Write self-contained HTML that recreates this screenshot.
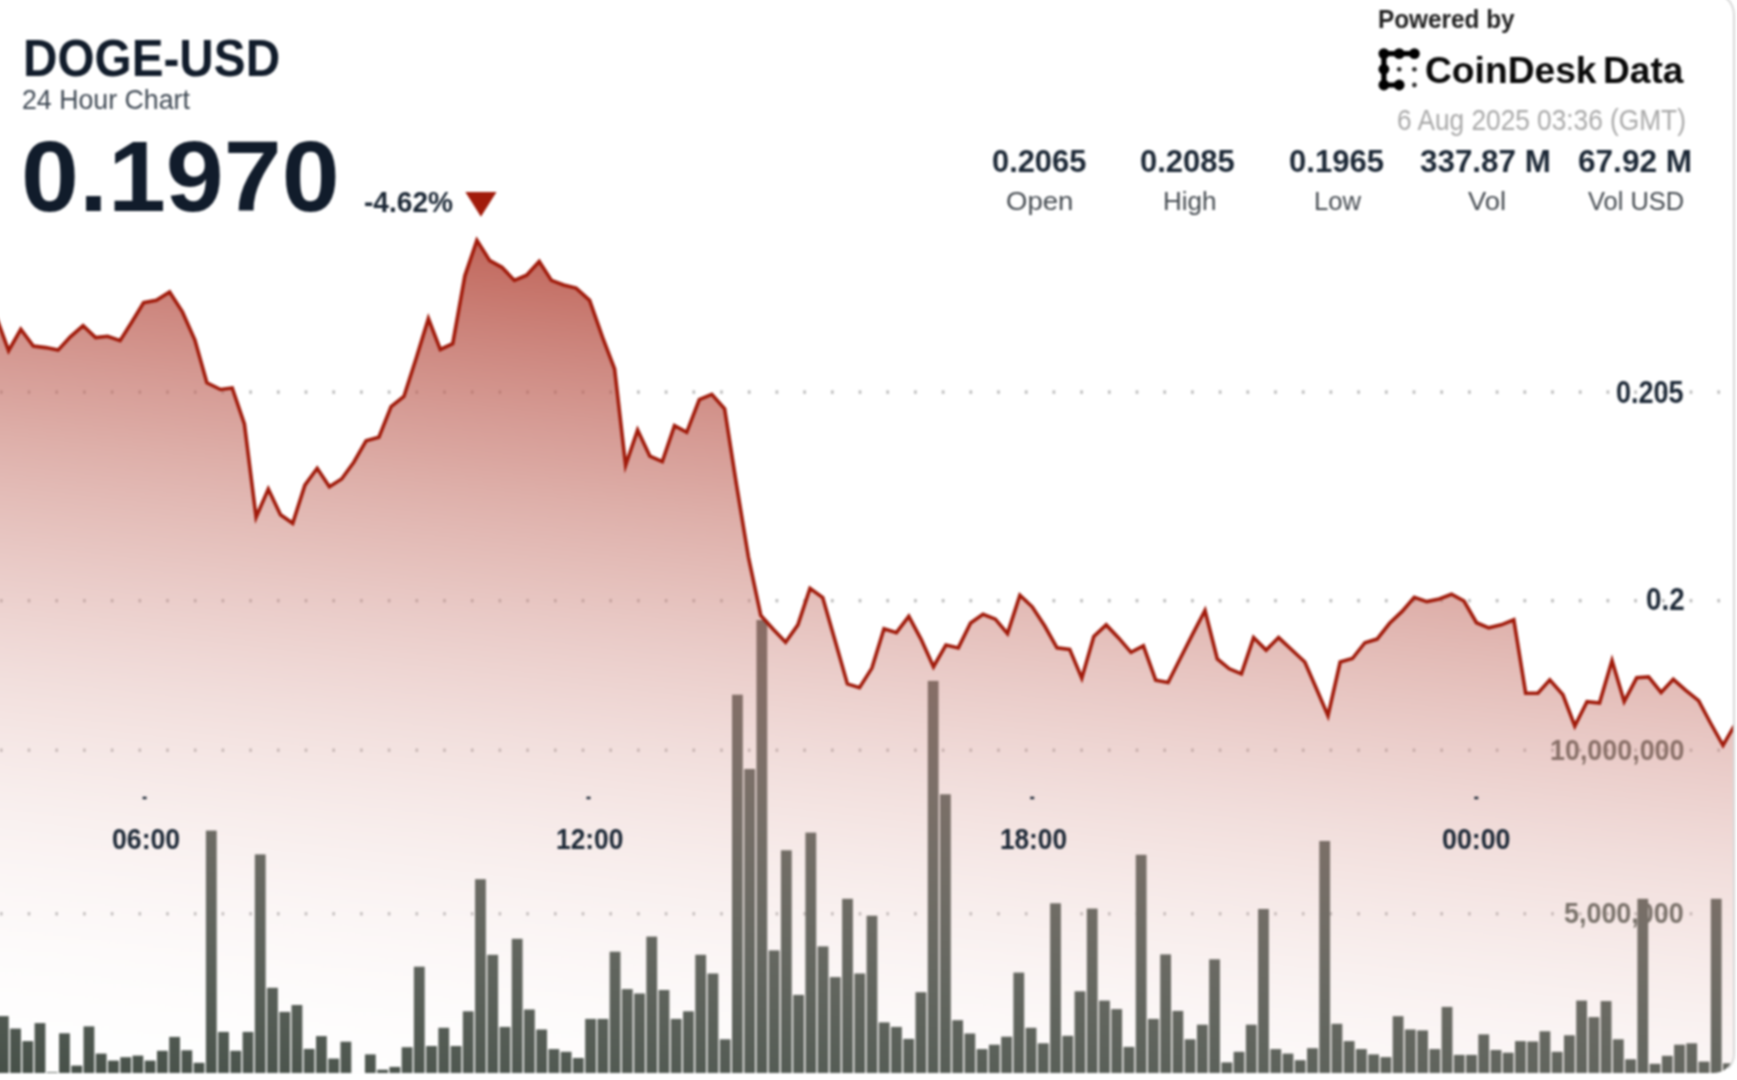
<!DOCTYPE html>
<html><head><meta charset="utf-8"><title>DOGE-USD 24 Hour Chart</title>
<style>
html,body{margin:0;padding:0;background:#fff;}
body{width:1737px;height:1080px;overflow:hidden;position:relative;font-family:"Liberation Sans",sans-serif;}
#card{position:absolute;left:-40px;top:-9px;width:1770.8px;height:1080.2px;border:2px solid #d8d8d8;border-right-width:2.6px;border-bottom-color:#fff;border-radius:21px;border-top-right-radius:24px;overflow:hidden;background:#fff;box-sizing:content-box;}
#inner{position:absolute;left:38px;top:7px;width:1737px;height:1080px;}
#inner svg{position:absolute;left:0;top:0;overflow:visible;}
.t{position:absolute;white-space:nowrap;line-height:1;transform-origin:0 0;}
#wrap{position:absolute;left:0;top:0;width:1737px;height:1080px;filter:blur(1.0px);}
</style></head><body>
<div id="wrap">
<div id="card"><div id="inner">
<svg width="1737" height="1080" viewBox="0 0 1737 1080">
<g fill="#8f8f8f" opacity="0.62"><rect x="0.0" y="390.4" width="2.6" height="3.4"/><rect x="27.7" y="390.4" width="2.6" height="3.4"/><rect x="55.4" y="390.4" width="2.6" height="3.4"/><rect x="83.1" y="390.4" width="2.6" height="3.4"/><rect x="110.8" y="390.4" width="2.6" height="3.4"/><rect x="138.5" y="390.4" width="2.6" height="3.4"/><rect x="166.2" y="390.4" width="2.6" height="3.4"/><rect x="193.9" y="390.4" width="2.6" height="3.4"/><rect x="221.6" y="390.4" width="2.6" height="3.4"/><rect x="249.3" y="390.4" width="2.6" height="3.4"/><rect x="277.0" y="390.4" width="2.6" height="3.4"/><rect x="304.7" y="390.4" width="2.6" height="3.4"/><rect x="332.4" y="390.4" width="2.6" height="3.4"/><rect x="360.1" y="390.4" width="2.6" height="3.4"/><rect x="387.8" y="390.4" width="2.6" height="3.4"/><rect x="415.5" y="390.4" width="2.6" height="3.4"/><rect x="443.2" y="390.4" width="2.6" height="3.4"/><rect x="470.9" y="390.4" width="2.6" height="3.4"/><rect x="498.6" y="390.4" width="2.6" height="3.4"/><rect x="526.3" y="390.4" width="2.6" height="3.4"/><rect x="554.0" y="390.4" width="2.6" height="3.4"/><rect x="581.7" y="390.4" width="2.6" height="3.4"/><rect x="609.4" y="390.4" width="2.6" height="3.4"/><rect x="637.1" y="390.4" width="2.6" height="3.4"/><rect x="664.8" y="390.4" width="2.6" height="3.4"/><rect x="692.5" y="390.4" width="2.6" height="3.4"/><rect x="720.2" y="390.4" width="2.6" height="3.4"/><rect x="747.9" y="390.4" width="2.6" height="3.4"/><rect x="775.6" y="390.4" width="2.6" height="3.4"/><rect x="803.3" y="390.4" width="2.6" height="3.4"/><rect x="831.0" y="390.4" width="2.6" height="3.4"/><rect x="858.7" y="390.4" width="2.6" height="3.4"/><rect x="886.4" y="390.4" width="2.6" height="3.4"/><rect x="914.1" y="390.4" width="2.6" height="3.4"/><rect x="941.8" y="390.4" width="2.6" height="3.4"/><rect x="969.5" y="390.4" width="2.6" height="3.4"/><rect x="997.2" y="390.4" width="2.6" height="3.4"/><rect x="1024.9" y="390.4" width="2.6" height="3.4"/><rect x="1052.6" y="390.4" width="2.6" height="3.4"/><rect x="1080.3" y="390.4" width="2.6" height="3.4"/><rect x="1108.0" y="390.4" width="2.6" height="3.4"/><rect x="1135.7" y="390.4" width="2.6" height="3.4"/><rect x="1163.4" y="390.4" width="2.6" height="3.4"/><rect x="1191.1" y="390.4" width="2.6" height="3.4"/><rect x="1218.8" y="390.4" width="2.6" height="3.4"/><rect x="1246.5" y="390.4" width="2.6" height="3.4"/><rect x="1274.2" y="390.4" width="2.6" height="3.4"/><rect x="1301.9" y="390.4" width="2.6" height="3.4"/><rect x="1329.6" y="390.4" width="2.6" height="3.4"/><rect x="1357.3" y="390.4" width="2.6" height="3.4"/><rect x="1385.0" y="390.4" width="2.6" height="3.4"/><rect x="1412.7" y="390.4" width="2.6" height="3.4"/><rect x="1440.4" y="390.4" width="2.6" height="3.4"/><rect x="1468.1" y="390.4" width="2.6" height="3.4"/><rect x="1495.8" y="390.4" width="2.6" height="3.4"/><rect x="1523.5" y="390.4" width="2.6" height="3.4"/><rect x="1551.2" y="390.4" width="2.6" height="3.4"/><rect x="1578.9" y="390.4" width="2.6" height="3.4"/><rect x="1606.6" y="390.4" width="2.6" height="3.4"/><rect x="1634.3" y="390.4" width="2.6" height="3.4"/><rect x="1662.0" y="390.4" width="2.6" height="3.4"/><rect x="1689.7" y="390.4" width="2.6" height="3.4"/><rect x="1717.4" y="390.4" width="2.6" height="3.4"/><rect x="0.0" y="599.0" width="2.6" height="3.4"/><rect x="27.7" y="599.0" width="2.6" height="3.4"/><rect x="55.4" y="599.0" width="2.6" height="3.4"/><rect x="83.1" y="599.0" width="2.6" height="3.4"/><rect x="110.8" y="599.0" width="2.6" height="3.4"/><rect x="138.5" y="599.0" width="2.6" height="3.4"/><rect x="166.2" y="599.0" width="2.6" height="3.4"/><rect x="193.9" y="599.0" width="2.6" height="3.4"/><rect x="221.6" y="599.0" width="2.6" height="3.4"/><rect x="249.3" y="599.0" width="2.6" height="3.4"/><rect x="277.0" y="599.0" width="2.6" height="3.4"/><rect x="304.7" y="599.0" width="2.6" height="3.4"/><rect x="332.4" y="599.0" width="2.6" height="3.4"/><rect x="360.1" y="599.0" width="2.6" height="3.4"/><rect x="387.8" y="599.0" width="2.6" height="3.4"/><rect x="415.5" y="599.0" width="2.6" height="3.4"/><rect x="443.2" y="599.0" width="2.6" height="3.4"/><rect x="470.9" y="599.0" width="2.6" height="3.4"/><rect x="498.6" y="599.0" width="2.6" height="3.4"/><rect x="526.3" y="599.0" width="2.6" height="3.4"/><rect x="554.0" y="599.0" width="2.6" height="3.4"/><rect x="581.7" y="599.0" width="2.6" height="3.4"/><rect x="609.4" y="599.0" width="2.6" height="3.4"/><rect x="637.1" y="599.0" width="2.6" height="3.4"/><rect x="664.8" y="599.0" width="2.6" height="3.4"/><rect x="692.5" y="599.0" width="2.6" height="3.4"/><rect x="720.2" y="599.0" width="2.6" height="3.4"/><rect x="747.9" y="599.0" width="2.6" height="3.4"/><rect x="775.6" y="599.0" width="2.6" height="3.4"/><rect x="803.3" y="599.0" width="2.6" height="3.4"/><rect x="831.0" y="599.0" width="2.6" height="3.4"/><rect x="858.7" y="599.0" width="2.6" height="3.4"/><rect x="886.4" y="599.0" width="2.6" height="3.4"/><rect x="914.1" y="599.0" width="2.6" height="3.4"/><rect x="941.8" y="599.0" width="2.6" height="3.4"/><rect x="969.5" y="599.0" width="2.6" height="3.4"/><rect x="997.2" y="599.0" width="2.6" height="3.4"/><rect x="1024.9" y="599.0" width="2.6" height="3.4"/><rect x="1052.6" y="599.0" width="2.6" height="3.4"/><rect x="1080.3" y="599.0" width="2.6" height="3.4"/><rect x="1108.0" y="599.0" width="2.6" height="3.4"/><rect x="1135.7" y="599.0" width="2.6" height="3.4"/><rect x="1163.4" y="599.0" width="2.6" height="3.4"/><rect x="1191.1" y="599.0" width="2.6" height="3.4"/><rect x="1218.8" y="599.0" width="2.6" height="3.4"/><rect x="1246.5" y="599.0" width="2.6" height="3.4"/><rect x="1274.2" y="599.0" width="2.6" height="3.4"/><rect x="1301.9" y="599.0" width="2.6" height="3.4"/><rect x="1329.6" y="599.0" width="2.6" height="3.4"/><rect x="1357.3" y="599.0" width="2.6" height="3.4"/><rect x="1385.0" y="599.0" width="2.6" height="3.4"/><rect x="1412.7" y="599.0" width="2.6" height="3.4"/><rect x="1440.4" y="599.0" width="2.6" height="3.4"/><rect x="1468.1" y="599.0" width="2.6" height="3.4"/><rect x="1495.8" y="599.0" width="2.6" height="3.4"/><rect x="1523.5" y="599.0" width="2.6" height="3.4"/><rect x="1551.2" y="599.0" width="2.6" height="3.4"/><rect x="1578.9" y="599.0" width="2.6" height="3.4"/><rect x="1606.6" y="599.0" width="2.6" height="3.4"/><rect x="1634.3" y="599.0" width="2.6" height="3.4"/><rect x="1662.0" y="599.0" width="2.6" height="3.4"/><rect x="1689.7" y="599.0" width="2.6" height="3.4"/><rect x="1717.4" y="599.0" width="2.6" height="3.4"/><rect x="0.0" y="748.5" width="2.6" height="3.4"/><rect x="27.7" y="748.5" width="2.6" height="3.4"/><rect x="55.4" y="748.5" width="2.6" height="3.4"/><rect x="83.1" y="748.5" width="2.6" height="3.4"/><rect x="110.8" y="748.5" width="2.6" height="3.4"/><rect x="138.5" y="748.5" width="2.6" height="3.4"/><rect x="166.2" y="748.5" width="2.6" height="3.4"/><rect x="193.9" y="748.5" width="2.6" height="3.4"/><rect x="221.6" y="748.5" width="2.6" height="3.4"/><rect x="249.3" y="748.5" width="2.6" height="3.4"/><rect x="277.0" y="748.5" width="2.6" height="3.4"/><rect x="304.7" y="748.5" width="2.6" height="3.4"/><rect x="332.4" y="748.5" width="2.6" height="3.4"/><rect x="360.1" y="748.5" width="2.6" height="3.4"/><rect x="387.8" y="748.5" width="2.6" height="3.4"/><rect x="415.5" y="748.5" width="2.6" height="3.4"/><rect x="443.2" y="748.5" width="2.6" height="3.4"/><rect x="470.9" y="748.5" width="2.6" height="3.4"/><rect x="498.6" y="748.5" width="2.6" height="3.4"/><rect x="526.3" y="748.5" width="2.6" height="3.4"/><rect x="554.0" y="748.5" width="2.6" height="3.4"/><rect x="581.7" y="748.5" width="2.6" height="3.4"/><rect x="609.4" y="748.5" width="2.6" height="3.4"/><rect x="637.1" y="748.5" width="2.6" height="3.4"/><rect x="664.8" y="748.5" width="2.6" height="3.4"/><rect x="692.5" y="748.5" width="2.6" height="3.4"/><rect x="720.2" y="748.5" width="2.6" height="3.4"/><rect x="747.9" y="748.5" width="2.6" height="3.4"/><rect x="775.6" y="748.5" width="2.6" height="3.4"/><rect x="803.3" y="748.5" width="2.6" height="3.4"/><rect x="831.0" y="748.5" width="2.6" height="3.4"/><rect x="858.7" y="748.5" width="2.6" height="3.4"/><rect x="886.4" y="748.5" width="2.6" height="3.4"/><rect x="914.1" y="748.5" width="2.6" height="3.4"/><rect x="941.8" y="748.5" width="2.6" height="3.4"/><rect x="969.5" y="748.5" width="2.6" height="3.4"/><rect x="997.2" y="748.5" width="2.6" height="3.4"/><rect x="1024.9" y="748.5" width="2.6" height="3.4"/><rect x="1052.6" y="748.5" width="2.6" height="3.4"/><rect x="1080.3" y="748.5" width="2.6" height="3.4"/><rect x="1108.0" y="748.5" width="2.6" height="3.4"/><rect x="1135.7" y="748.5" width="2.6" height="3.4"/><rect x="1163.4" y="748.5" width="2.6" height="3.4"/><rect x="1191.1" y="748.5" width="2.6" height="3.4"/><rect x="1218.8" y="748.5" width="2.6" height="3.4"/><rect x="1246.5" y="748.5" width="2.6" height="3.4"/><rect x="1274.2" y="748.5" width="2.6" height="3.4"/><rect x="1301.9" y="748.5" width="2.6" height="3.4"/><rect x="1329.6" y="748.5" width="2.6" height="3.4"/><rect x="1357.3" y="748.5" width="2.6" height="3.4"/><rect x="1385.0" y="748.5" width="2.6" height="3.4"/><rect x="1412.7" y="748.5" width="2.6" height="3.4"/><rect x="1440.4" y="748.5" width="2.6" height="3.4"/><rect x="1468.1" y="748.5" width="2.6" height="3.4"/><rect x="1495.8" y="748.5" width="2.6" height="3.4"/><rect x="1523.5" y="748.5" width="2.6" height="3.4"/><rect x="1551.2" y="748.5" width="2.6" height="3.4"/><rect x="1578.9" y="748.5" width="2.6" height="3.4"/><rect x="1606.6" y="748.5" width="2.6" height="3.4"/><rect x="1634.3" y="748.5" width="2.6" height="3.4"/><rect x="1662.0" y="748.5" width="2.6" height="3.4"/><rect x="1689.7" y="748.5" width="2.6" height="3.4"/><rect x="1717.4" y="748.5" width="2.6" height="3.4"/><rect x="0.0" y="912.1" width="2.6" height="3.4"/><rect x="27.7" y="912.1" width="2.6" height="3.4"/><rect x="55.4" y="912.1" width="2.6" height="3.4"/><rect x="83.1" y="912.1" width="2.6" height="3.4"/><rect x="110.8" y="912.1" width="2.6" height="3.4"/><rect x="138.5" y="912.1" width="2.6" height="3.4"/><rect x="166.2" y="912.1" width="2.6" height="3.4"/><rect x="193.9" y="912.1" width="2.6" height="3.4"/><rect x="221.6" y="912.1" width="2.6" height="3.4"/><rect x="249.3" y="912.1" width="2.6" height="3.4"/><rect x="277.0" y="912.1" width="2.6" height="3.4"/><rect x="304.7" y="912.1" width="2.6" height="3.4"/><rect x="332.4" y="912.1" width="2.6" height="3.4"/><rect x="360.1" y="912.1" width="2.6" height="3.4"/><rect x="387.8" y="912.1" width="2.6" height="3.4"/><rect x="415.5" y="912.1" width="2.6" height="3.4"/><rect x="443.2" y="912.1" width="2.6" height="3.4"/><rect x="470.9" y="912.1" width="2.6" height="3.4"/><rect x="498.6" y="912.1" width="2.6" height="3.4"/><rect x="526.3" y="912.1" width="2.6" height="3.4"/><rect x="554.0" y="912.1" width="2.6" height="3.4"/><rect x="581.7" y="912.1" width="2.6" height="3.4"/><rect x="609.4" y="912.1" width="2.6" height="3.4"/><rect x="637.1" y="912.1" width="2.6" height="3.4"/><rect x="664.8" y="912.1" width="2.6" height="3.4"/><rect x="692.5" y="912.1" width="2.6" height="3.4"/><rect x="720.2" y="912.1" width="2.6" height="3.4"/><rect x="747.9" y="912.1" width="2.6" height="3.4"/><rect x="775.6" y="912.1" width="2.6" height="3.4"/><rect x="803.3" y="912.1" width="2.6" height="3.4"/><rect x="831.0" y="912.1" width="2.6" height="3.4"/><rect x="858.7" y="912.1" width="2.6" height="3.4"/><rect x="886.4" y="912.1" width="2.6" height="3.4"/><rect x="914.1" y="912.1" width="2.6" height="3.4"/><rect x="941.8" y="912.1" width="2.6" height="3.4"/><rect x="969.5" y="912.1" width="2.6" height="3.4"/><rect x="997.2" y="912.1" width="2.6" height="3.4"/><rect x="1024.9" y="912.1" width="2.6" height="3.4"/><rect x="1052.6" y="912.1" width="2.6" height="3.4"/><rect x="1080.3" y="912.1" width="2.6" height="3.4"/><rect x="1108.0" y="912.1" width="2.6" height="3.4"/><rect x="1135.7" y="912.1" width="2.6" height="3.4"/><rect x="1163.4" y="912.1" width="2.6" height="3.4"/><rect x="1191.1" y="912.1" width="2.6" height="3.4"/><rect x="1218.8" y="912.1" width="2.6" height="3.4"/><rect x="1246.5" y="912.1" width="2.6" height="3.4"/><rect x="1274.2" y="912.1" width="2.6" height="3.4"/><rect x="1301.9" y="912.1" width="2.6" height="3.4"/><rect x="1329.6" y="912.1" width="2.6" height="3.4"/><rect x="1357.3" y="912.1" width="2.6" height="3.4"/><rect x="1385.0" y="912.1" width="2.6" height="3.4"/><rect x="1412.7" y="912.1" width="2.6" height="3.4"/><rect x="1440.4" y="912.1" width="2.6" height="3.4"/><rect x="1468.1" y="912.1" width="2.6" height="3.4"/><rect x="1495.8" y="912.1" width="2.6" height="3.4"/><rect x="1523.5" y="912.1" width="2.6" height="3.4"/><rect x="1551.2" y="912.1" width="2.6" height="3.4"/><rect x="1578.9" y="912.1" width="2.6" height="3.4"/><rect x="1606.6" y="912.1" width="2.6" height="3.4"/><rect x="1634.3" y="912.1" width="2.6" height="3.4"/><rect x="1662.0" y="912.1" width="2.6" height="3.4"/><rect x="1689.7" y="912.1" width="2.6" height="3.4"/><rect x="1717.4" y="912.1" width="2.6" height="3.4"/></g>
</svg>
<div class="t" style="left:1549.70px;top:734.61px;font-size:30px;font-weight:700;color:#48524a;transform:scaleX(0.8959)">10,000,000</div>
<div class="t" style="left:1563.60px;top:898.31px;font-size:30px;font-weight:700;color:#48524a;transform:scaleX(0.8970)">5,000,000</div>
<svg width="1737" height="1080" viewBox="0 0 1737 1080">
<defs><linearGradient id="g" gradientUnits="userSpaceOnUse" x1="0" y1="-19" x2="-125.9" y2="1084.7"><stop offset="0.0000" stop-color="rgb(161,27,11)" stop-opacity="1.0000"/><stop offset="0.0312" stop-color="rgb(164,34,19)" stop-opacity="0.9688"/><stop offset="0.0625" stop-color="rgb(167,41,26)" stop-opacity="0.9375"/><stop offset="0.0938" stop-color="rgb(170,48,34)" stop-opacity="0.9062"/><stop offset="0.1250" stop-color="rgb(173,56,42)" stop-opacity="0.8750"/><stop offset="0.1562" stop-color="rgb(176,63,49)" stop-opacity="0.8438"/><stop offset="0.1875" stop-color="rgb(179,70,57)" stop-opacity="0.8125"/><stop offset="0.2188" stop-color="rgb(182,77,64)" stop-opacity="0.7812"/><stop offset="0.2500" stop-color="rgb(184,84,72)" stop-opacity="0.7500"/><stop offset="0.2812" stop-color="rgb(187,91,80)" stop-opacity="0.7188"/><stop offset="0.3125" stop-color="rgb(190,98,87)" stop-opacity="0.6875"/><stop offset="0.3438" stop-color="rgb(193,105,95)" stop-opacity="0.6562"/><stop offset="0.3750" stop-color="rgb(196,112,102)" stop-opacity="0.6250"/><stop offset="0.4062" stop-color="rgb(199,120,110)" stop-opacity="0.5938"/><stop offset="0.4375" stop-color="rgb(202,127,118)" stop-opacity="0.5625"/><stop offset="0.4688" stop-color="rgb(205,134,125)" stop-opacity="0.5312"/><stop offset="0.5000" stop-color="rgb(208,141,133)" stop-opacity="0.5000"/><stop offset="0.5312" stop-color="rgb(211,148,141)" stop-opacity="0.4688"/><stop offset="0.5625" stop-color="rgb(214,155,148)" stop-opacity="0.4375"/><stop offset="0.5938" stop-color="rgb(217,162,156)" stop-opacity="0.4062"/><stop offset="0.6250" stop-color="rgb(220,170,164)" stop-opacity="0.3750"/><stop offset="0.6562" stop-color="rgb(223,177,171)" stop-opacity="0.3438"/><stop offset="0.6875" stop-color="rgb(226,184,179)" stop-opacity="0.3125"/><stop offset="0.7188" stop-color="rgb(229,191,186)" stop-opacity="0.2812"/><stop offset="0.7500" stop-color="rgb(232,198,194)" stop-opacity="0.2500"/><stop offset="0.7812" stop-color="rgb(234,205,202)" stop-opacity="0.2188"/><stop offset="0.8125" stop-color="rgb(237,212,209)" stop-opacity="0.1875"/><stop offset="0.8438" stop-color="rgb(240,219,217)" stop-opacity="0.1562"/><stop offset="0.8750" stop-color="rgb(243,226,224)" stop-opacity="0.1250"/><stop offset="0.9062" stop-color="rgb(246,234,232)" stop-opacity="0.0938"/><stop offset="0.9375" stop-color="rgb(249,241,240)" stop-opacity="0.0625"/><stop offset="0.9688" stop-color="rgb(252,248,247)" stop-opacity="0.0312"/><stop offset="1.0000" stop-color="rgb(255,255,255)" stop-opacity="0.0000"/></linearGradient></defs>
<g fill="#424c44"><rect x="-2.10" y="1016.1" width="10.8" height="63.9"/><rect x="10.13" y="1028.6" width="10.8" height="51.4"/><rect x="22.37" y="1041.1" width="10.8" height="38.9"/><rect x="34.60" y="1023.1" width="10.8" height="56.9"/><rect x="46.84" y="1072.2" width="10.8" height="7.8"/><rect x="59.07" y="1033.3" width="10.8" height="46.7"/><rect x="71.31" y="1065.6" width="10.8" height="14.4"/><rect x="83.54" y="1026.4" width="10.8" height="53.6"/><rect x="95.78" y="1053.6" width="10.8" height="26.4"/><rect x="108.01" y="1060.6" width="10.8" height="19.4"/><rect x="120.25" y="1057.2" width="10.8" height="22.8"/><rect x="132.48" y="1055.6" width="10.8" height="24.4"/><rect x="144.72" y="1060.6" width="10.8" height="19.4"/><rect x="156.96" y="1050.8" width="10.8" height="29.2"/><rect x="169.19" y="1036.9" width="10.8" height="43.1"/><rect x="181.42" y="1050.3" width="10.8" height="29.7"/><rect x="193.66" y="1062.8" width="10.8" height="17.2"/><rect x="205.90" y="830.6" width="10.8" height="249.4"/><rect x="218.13" y="1031.9" width="10.8" height="48.1"/><rect x="230.36" y="1050.8" width="10.8" height="29.2"/><rect x="242.60" y="1031.9" width="10.8" height="48.1"/><rect x="254.84" y="854.4" width="10.8" height="225.6"/><rect x="267.07" y="987.8" width="10.8" height="92.2"/><rect x="279.31" y="1011.9" width="10.8" height="68.1"/><rect x="291.54" y="1005.0" width="10.8" height="75.0"/><rect x="303.78" y="1048.9" width="10.8" height="31.1"/><rect x="316.01" y="1036.1" width="10.8" height="43.9"/><rect x="328.25" y="1058.6" width="10.8" height="21.4"/><rect x="340.48" y="1041.7" width="10.8" height="38.3"/><rect x="352.72" y="1073.1" width="10.8" height="6.9"/><rect x="364.95" y="1054.4" width="10.8" height="25.6"/><rect x="377.19" y="1069.7" width="10.8" height="10.3"/><rect x="389.42" y="1066.9" width="10.8" height="13.1"/><rect x="401.66" y="1047.2" width="10.8" height="32.8"/><rect x="413.89" y="966.7" width="10.8" height="113.3"/><rect x="426.12" y="1046.0" width="10.8" height="34.0"/><rect x="438.36" y="1027.8" width="10.8" height="52.2"/><rect x="450.60" y="1046.0" width="10.8" height="34.0"/><rect x="462.83" y="1011.3" width="10.8" height="68.7"/><rect x="475.06" y="879.2" width="10.8" height="200.8"/><rect x="487.30" y="954.8" width="10.8" height="125.2"/><rect x="499.54" y="1026.9" width="10.8" height="53.1"/><rect x="511.77" y="938.8" width="10.8" height="141.2"/><rect x="524.00" y="1009.5" width="10.8" height="70.5"/><rect x="536.24" y="1029.5" width="10.8" height="50.5"/><rect x="548.47" y="1049.1" width="10.8" height="30.9"/><rect x="560.71" y="1051.8" width="10.8" height="28.2"/><rect x="572.94" y="1058.0" width="10.8" height="22.0"/><rect x="585.18" y="1018.9" width="10.8" height="61.1"/><rect x="597.41" y="1018.9" width="10.8" height="61.1"/><rect x="609.65" y="951.7" width="10.8" height="128.3"/><rect x="621.88" y="989.1" width="10.8" height="90.9"/><rect x="634.12" y="993.5" width="10.8" height="86.5"/><rect x="646.35" y="936.6" width="10.8" height="143.4"/><rect x="658.59" y="990.0" width="10.8" height="90.0"/><rect x="670.82" y="1018.9" width="10.8" height="61.1"/><rect x="683.06" y="1011.3" width="10.8" height="68.7"/><rect x="695.29" y="954.8" width="10.8" height="125.2"/><rect x="707.53" y="973.5" width="10.8" height="106.5"/><rect x="719.76" y="1039.3" width="10.8" height="40.7"/><rect x="732.00" y="694.7" width="10.8" height="385.3"/><rect x="744.23" y="769.0" width="10.8" height="311.0"/><rect x="756.47" y="620.0" width="10.8" height="460.0"/><rect x="768.70" y="950.4" width="10.8" height="129.6"/><rect x="780.94" y="850.3" width="10.8" height="229.7"/><rect x="793.17" y="994.9" width="10.8" height="85.1"/><rect x="805.41" y="832.6" width="10.8" height="247.4"/><rect x="817.64" y="946.4" width="10.8" height="133.6"/><rect x="829.88" y="977.1" width="10.8" height="102.9"/><rect x="842.11" y="898.8" width="10.8" height="181.2"/><rect x="854.35" y="973.5" width="10.8" height="106.5"/><rect x="866.58" y="915.7" width="10.8" height="164.3"/><rect x="878.82" y="1022.4" width="10.8" height="57.6"/><rect x="891.05" y="1026.9" width="10.8" height="53.1"/><rect x="903.29" y="1038.9" width="10.8" height="41.1"/><rect x="915.52" y="992.2" width="10.8" height="87.8"/><rect x="927.76" y="680.9" width="10.8" height="399.1"/><rect x="939.99" y="794.3" width="10.8" height="285.7"/><rect x="952.23" y="1020.2" width="10.8" height="59.8"/><rect x="964.46" y="1033.5" width="10.8" height="46.5"/><rect x="976.70" y="1049.1" width="10.8" height="30.9"/><rect x="988.93" y="1044.7" width="10.8" height="35.3"/><rect x="1001.17" y="1036.7" width="10.8" height="43.3"/><rect x="1013.40" y="972.6" width="10.8" height="107.4"/><rect x="1025.64" y="1027.8" width="10.8" height="52.2"/><rect x="1037.87" y="1043.3" width="10.8" height="36.7"/><rect x="1050.11" y="903.3" width="10.8" height="176.7"/><rect x="1062.34" y="1035.8" width="10.8" height="44.2"/><rect x="1074.58" y="991.3" width="10.8" height="88.7"/><rect x="1086.81" y="908.6" width="10.8" height="171.4"/><rect x="1099.05" y="1000.6" width="10.8" height="79.4"/><rect x="1111.28" y="1009.1" width="10.8" height="70.9"/><rect x="1123.52" y="1046.9" width="10.8" height="33.1"/><rect x="1135.75" y="854.8" width="10.8" height="225.2"/><rect x="1147.99" y="1018.9" width="10.8" height="61.1"/><rect x="1160.22" y="954.4" width="10.8" height="125.6"/><rect x="1172.46" y="1010.9" width="10.8" height="69.1"/><rect x="1184.69" y="1039.3" width="10.8" height="40.7"/><rect x="1196.93" y="1024.7" width="10.8" height="55.3"/><rect x="1209.16" y="959.3" width="10.8" height="120.7"/><rect x="1221.40" y="1062.4" width="10.8" height="17.6"/><rect x="1233.63" y="1051.8" width="10.8" height="28.2"/><rect x="1245.87" y="1024.7" width="10.8" height="55.3"/><rect x="1258.10" y="909.0" width="10.8" height="171.0"/><rect x="1270.34" y="1049.1" width="10.8" height="30.9"/><rect x="1282.57" y="1053.6" width="10.8" height="26.4"/><rect x="1294.81" y="1060.2" width="10.8" height="19.8"/><rect x="1307.04" y="1048.2" width="10.8" height="31.8"/><rect x="1319.28" y="841.0" width="10.8" height="239.0"/><rect x="1331.51" y="1023.8" width="10.8" height="56.2"/><rect x="1343.75" y="1041.1" width="10.8" height="38.9"/><rect x="1355.98" y="1049.1" width="10.8" height="30.9"/><rect x="1368.22" y="1054.4" width="10.8" height="25.6"/><rect x="1380.45" y="1057.1" width="10.8" height="22.9"/><rect x="1392.69" y="1016.2" width="10.8" height="63.8"/><rect x="1404.92" y="1029.5" width="10.8" height="50.5"/><rect x="1417.16" y="1030.4" width="10.8" height="49.6"/><rect x="1429.39" y="1049.1" width="10.8" height="30.9"/><rect x="1441.63" y="1006.9" width="10.8" height="73.1"/><rect x="1453.86" y="1054.9" width="10.8" height="25.1"/><rect x="1466.10" y="1054.9" width="10.8" height="25.1"/><rect x="1478.33" y="1034.4" width="10.8" height="45.6"/><rect x="1490.57" y="1050.0" width="10.8" height="30.0"/><rect x="1502.80" y="1052.7" width="10.8" height="27.3"/><rect x="1515.04" y="1041.1" width="10.8" height="38.9"/><rect x="1527.27" y="1041.5" width="10.8" height="38.5"/><rect x="1539.51" y="1031.3" width="10.8" height="48.7"/><rect x="1551.74" y="1051.8" width="10.8" height="28.2"/><rect x="1563.98" y="1035.3" width="10.8" height="44.7"/><rect x="1576.21" y="1000.6" width="10.8" height="79.4"/><rect x="1588.45" y="1017.1" width="10.8" height="62.9"/><rect x="1600.68" y="1001.1" width="10.8" height="78.9"/><rect x="1612.92" y="1039.3" width="10.8" height="40.7"/><rect x="1625.15" y="1059.3" width="10.8" height="20.7"/><rect x="1637.39" y="898.8" width="10.8" height="181.2"/><rect x="1649.62" y="1063.8" width="10.8" height="16.2"/><rect x="1661.86" y="1055.8" width="10.8" height="24.2"/><rect x="1674.09" y="1044.7" width="10.8" height="35.3"/><rect x="1686.33" y="1043.3" width="10.8" height="36.7"/><rect x="1698.56" y="1061.6" width="10.8" height="18.4"/><rect x="1710.80" y="898.8" width="10.8" height="181.2"/><rect x="1723.03" y="1063.3" width="10.8" height="16.7"/></g>
<path d="M-16.0,280.0 L-3.7,317.0 L8.6,350.7 L20.8,329.3 L33.3,346.1 L45.8,347.6 L58.1,350.1 L70.3,336.9 L83.1,325.6 L95.6,337.6 L107.6,336.3 L120.1,340.6 L132.0,321.7 L143.6,302.7 L156.4,300.3 L169.6,292.0 L182.4,311.9 L194.9,340.0 L206.9,382.8 L220.6,389.5 L232.2,388.0 L244.4,424.0 L256.1,517.2 L268.3,489.1 L280.5,514.8 L292.7,523.3 L304.9,485.1 L317.2,468.3 L329.4,486.7 L341.6,479.0 L353.8,462.2 L366.1,440.8 L378.9,437.2 L391.1,406.6 L403.9,396.5 L416.2,358.3 L428.4,318.6 L440.3,349.5 L452.7,343.7 L464.9,275.8 L476.9,240.4 L489.7,260.6 L501.9,267.3 L514.4,280.4 L526.6,275.2 L539.2,261.5 L551.4,280.4 L563.6,285.0 L576.1,288.1 L589.6,300.3 L602.4,336.9 L614.6,369.0 L625.6,465.3 L637.6,430.1 L649.8,456.1 L662.3,461.6 L674.5,425.6 L686.7,432.3 L699.3,399.6 L711.8,394.4 L724.6,408.8 L736.3,483.6 L748.4,557.0 L760.8,615.4 L773.2,629.2 L785.6,642.2 L797.9,624.9 L810.0,588.4 L822.7,597.6 L835.1,640.7 L847.4,683.9 L859.5,687.7 L871.9,668.1 L884.0,628.7 L896.4,632.7 L908.8,616.3 L921.1,639.3 L933.5,666.7 L945.9,645.1 L958.3,647.9 L970.6,622.9 L983.0,614.3 L995.4,619.2 L1007.5,633.6 L1019.9,595.3 L1032.2,606.8 L1044.6,625.8 L1057.0,647.9 L1069.7,649.4 L1081.8,678.2 L1093.8,636.4 L1106.2,624.9 L1118.6,637.9 L1131.0,652.3 L1143.4,645.9 L1155.7,680.2 L1168.1,682.5 L1180.5,658.0 L1192.9,633.6 L1205.0,610.5 L1217.3,658.9 L1229.3,668.8 L1241.4,673.9 L1253.6,637.6 L1266.1,650.1 L1278.6,637.6 L1291.4,649.5 L1304.8,662.0 L1315.8,687.3 L1328.0,715.6 L1340.2,662.0 L1352.4,658.5 L1364.9,642.7 L1377.1,639.1 L1389.6,623.3 L1402.1,611.4 L1414.3,597.4 L1426.8,601.6 L1439.3,598.9 L1451.5,594.2 L1464.0,601.0 L1476.5,622.7 L1488.8,627.8 L1501.3,624.8 L1513.8,619.8 L1525.7,693.3 L1537.9,693.3 L1549.8,679.9 L1562.9,694.8 L1574.8,726.0 L1587.0,701.6 L1599.5,703.1 L1612.0,660.5 L1624.2,701.6 L1636.7,677.8 L1648.6,676.9 L1661.1,692.4 L1673.3,679.3 L1685.8,690.3 L1698.6,700.7 L1710.5,723.0 L1723.0,745.4 L1735.3,724.0 L1748.0,702.0 L1748,1100 L-16,1100 Z" fill="url(#g)"/>
<path d="M-16.0,280.0 L-3.7,317.0 L8.6,350.7 L20.8,329.3 L33.3,346.1 L45.8,347.6 L58.1,350.1 L70.3,336.9 L83.1,325.6 L95.6,337.6 L107.6,336.3 L120.1,340.6 L132.0,321.7 L143.6,302.7 L156.4,300.3 L169.6,292.0 L182.4,311.9 L194.9,340.0 L206.9,382.8 L220.6,389.5 L232.2,388.0 L244.4,424.0 L256.1,517.2 L268.3,489.1 L280.5,514.8 L292.7,523.3 L304.9,485.1 L317.2,468.3 L329.4,486.7 L341.6,479.0 L353.8,462.2 L366.1,440.8 L378.9,437.2 L391.1,406.6 L403.9,396.5 L416.2,358.3 L428.4,318.6 L440.3,349.5 L452.7,343.7 L464.9,275.8 L476.9,240.4 L489.7,260.6 L501.9,267.3 L514.4,280.4 L526.6,275.2 L539.2,261.5 L551.4,280.4 L563.6,285.0 L576.1,288.1 L589.6,300.3 L602.4,336.9 L614.6,369.0 L625.6,465.3 L637.6,430.1 L649.8,456.1 L662.3,461.6 L674.5,425.6 L686.7,432.3 L699.3,399.6 L711.8,394.4 L724.6,408.8 L736.3,483.6 L748.4,557.0 L760.8,615.4 L773.2,629.2 L785.6,642.2 L797.9,624.9 L810.0,588.4 L822.7,597.6 L835.1,640.7 L847.4,683.9 L859.5,687.7 L871.9,668.1 L884.0,628.7 L896.4,632.7 L908.8,616.3 L921.1,639.3 L933.5,666.7 L945.9,645.1 L958.3,647.9 L970.6,622.9 L983.0,614.3 L995.4,619.2 L1007.5,633.6 L1019.9,595.3 L1032.2,606.8 L1044.6,625.8 L1057.0,647.9 L1069.7,649.4 L1081.8,678.2 L1093.8,636.4 L1106.2,624.9 L1118.6,637.9 L1131.0,652.3 L1143.4,645.9 L1155.7,680.2 L1168.1,682.5 L1180.5,658.0 L1192.9,633.6 L1205.0,610.5 L1217.3,658.9 L1229.3,668.8 L1241.4,673.9 L1253.6,637.6 L1266.1,650.1 L1278.6,637.6 L1291.4,649.5 L1304.8,662.0 L1315.8,687.3 L1328.0,715.6 L1340.2,662.0 L1352.4,658.5 L1364.9,642.7 L1377.1,639.1 L1389.6,623.3 L1402.1,611.4 L1414.3,597.4 L1426.8,601.6 L1439.3,598.9 L1451.5,594.2 L1464.0,601.0 L1476.5,622.7 L1488.8,627.8 L1501.3,624.8 L1513.8,619.8 L1525.7,693.3 L1537.9,693.3 L1549.8,679.9 L1562.9,694.8 L1574.8,726.0 L1587.0,701.6 L1599.5,703.1 L1612.0,660.5 L1624.2,701.6 L1636.7,677.8 L1648.6,676.9 L1661.1,692.4 L1673.3,679.3 L1685.8,690.3 L1698.6,700.7 L1710.5,723.0 L1723.0,745.4 L1735.3,724.0 L1748.0,702.0" fill="none" stroke="#a11b0b" stroke-width="3.6" stroke-linejoin="miter" stroke-miterlimit="6"/>
<path d="M465.4,192 L496.5,192 L480.9,216.8 Z" fill="#a11b0b"/>
<g fill="#1c2836"><rect x="142.6" y="796.7" width="4" height="2.5"/><rect x="586.5" y="796.7" width="4" height="2.5"/><rect x="1030.2" y="796.7" width="4" height="2.5"/><rect x="1474.3" y="796.7" width="4" height="2.5"/></g>
<path d="M1414.4,53.6 L1383.9,53.6 L1383.9,85.0 L1399.2,85.0" fill="none" stroke="#000" stroke-width="5.2" stroke-linecap="round" stroke-linejoin="round"/><circle cx="1383.9" cy="53.6" r="5.4" fill="#000"/><circle cx="1399.2" cy="53.6" r="5.4" fill="#000"/><circle cx="1414.4" cy="53.6" r="5.4" fill="#000"/><circle cx="1383.9" cy="69.3" r="5.4" fill="#000"/><circle cx="1383.9" cy="85.0" r="5.4" fill="#000"/><circle cx="1399.2" cy="85.0" r="5.4" fill="#000"/><circle cx="1399.2" cy="69.3" r="2.4" fill="#333"/><circle cx="1414.4" cy="69.3" r="2.4" fill="#333"/><circle cx="1414.4" cy="85.0" r="2.4" fill="#333"/>
</svg>
<div class="t" style="left:1615.91px;top:376.68px;font-size:30.5px;font-weight:700;color:#1c2836;transform:scaleX(0.8864)">0.205</div>
<div class="t" style="left:1646.29px;top:584.48px;font-size:30.5px;font-weight:700;color:#1c2836;transform:scaleX(0.9101)">0.2</div>
<div class="t" style="left:111.61px;top:823.81px;font-size:30px;font-weight:700;color:#1c2836;transform:scaleX(0.8888)">06:00</div>
<div class="t" style="left:555.82px;top:823.81px;font-size:30px;font-weight:700;color:#1c2836;transform:scaleX(0.8768)">12:00</div>
<div class="t" style="left:1000.33px;top:823.81px;font-size:30px;font-weight:700;color:#1c2836;transform:scaleX(0.8728)">18:00</div>
<div class="t" style="left:1442.41px;top:823.81px;font-size:30px;font-weight:700;color:#1c2836;transform:scaleX(0.8928)">00:00</div>
</div></div>
<div class="t" style="left:22.85px;top:31.78px;font-size:52px;font-weight:700;color:#111c2b;transform:scaleX(0.9174)">DOGE-USD</div>
<div class="t" style="left:21.63px;top:85.75px;font-size:27.7px;font-weight:400;color:#3f4954;transform:scaleX(0.9653)">24 Hour Chart</div>
<div class="t" style="left:21.37px;top:126.10px;font-size:101px;font-weight:700;color:#111c2b;transform:scaleX(1.0317)">0.1970</div>
<div class="t" style="left:363.96px;top:187.10px;font-size:30px;font-weight:700;color:#1c2836;transform:scaleX(0.9370)">-4.62%</div>
<div class="t" style="left:1377.66px;top:6.09px;font-size:26px;font-weight:700;color:#222222;transform:scaleX(0.9363)">Powered by</div>
<div class="t" style="left:1425.31px;top:51.66px;font-size:37.5px;font-weight:700;color:#0a0a0a;transform:scaleX(0.9918)">CoinDesk</div>
<div class="t" style="left:1602.92px;top:51.66px;font-size:37.5px;font-weight:700;color:#0a0a0a;transform:scaleX(0.9885)">Data</div>
<div class="t" style="left:1396.91px;top:104.93px;font-size:29.5px;font-weight:400;color:#a9a9a9;transform:scaleX(0.8897)">6 Aug 2025 03:36 (GMT)</div>
<div class="t" style="left:992.01px;top:145.96px;font-size:31px;font-weight:700;color:#1c2836;transform:scaleX(0.9949)">0.2065</div>
<div class="t" style="left:1140.30px;top:145.96px;font-size:31px;font-weight:700;color:#1c2836;transform:scaleX(1.0003)">0.2085</div>
<div class="t" style="left:1289.00px;top:145.96px;font-size:31px;font-weight:700;color:#1c2836;transform:scaleX(1.0013)">0.1965</div>
<div class="t" style="left:1420.30px;top:145.96px;font-size:31px;font-weight:700;color:#1c2836;transform:scaleX(1.0123)">337.87 M</div>
<div class="t" style="left:1578.28px;top:145.96px;font-size:31px;font-weight:700;color:#1c2836;transform:scaleX(1.0184)">67.92 M</div>
<div class="t" style="left:1006.47px;top:187.78px;font-size:26.6px;font-weight:400;color:#444a50;transform:scaleX(1.0337)">Open</div>
<div class="t" style="left:1163.14px;top:187.78px;font-size:26.6px;font-weight:400;color:#444a50;transform:scaleX(0.9787)">High</div>
<div class="t" style="left:1313.77px;top:187.78px;font-size:26.6px;font-weight:400;color:#444a50;transform:scaleX(0.9647)">Low</div>
<div class="t" style="left:1468.00px;top:187.78px;font-size:26.6px;font-weight:400;color:#444a50;transform:scaleX(1.0288)">Vol</div>
<div class="t" style="left:1588.10px;top:187.78px;font-size:26.6px;font-weight:400;color:#444a50;transform:scaleX(0.9557)">Vol USD</div>
</div>
</body></html>
